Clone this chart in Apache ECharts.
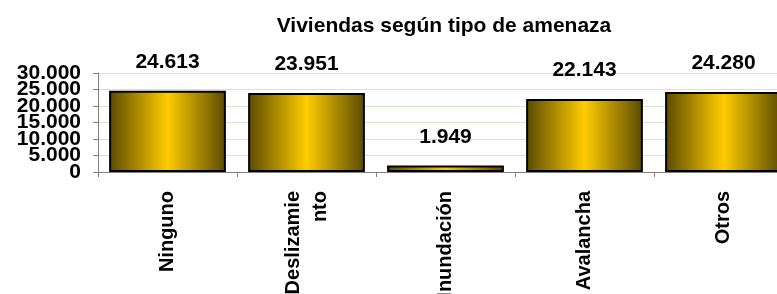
<!DOCTYPE html>
<html>
<head>
<meta charset="utf-8">
<script src="https://cdn.jsdelivr.net/npm/echarts@6/dist/echarts.min.js"></script>
<style>
html,body{margin:0;padding:0;background:#fff;}
#c{width:777px;height:294px;}
</style>
</head>
<body>
<div id="c"></div>
<script>
var titleText = 'Viviendas según tipo de amenaza';
var categories = ['Ninguno', 'Deslizamie\nnto', 'Inundación', 'Avalancha', 'Otros'];
var values = [24613, 23951, 1949, 22143, 24280];
var yMin = 0, yMax = 30000, yStep = 5000;

function fmt(v){
  var s = String(Math.round(v));
  return s.replace(/\B(?=(\d{3})+(?!\d))/g, '.');
}

var font = 'Liberation Sans, Arial, sans-serif';
var labelStyle = {fontFamily:font, fontWeight:'bold', fontSize:21, color:'#000', margin:17, showMinLabel:true, showMaxLabel:true};
var chart = echarts.init(document.getElementById('c'), null, {renderer:'canvas'});
chart.setOption({
  animation:false,
  backgroundColor:'#ffffff',
  title:{
    text:titleText, left:439, top:11, textAlign:'center',
    textStyle:{fontFamily:font, fontWeight:'bold', fontSize:21, color:'#000'}
  },
  grid:{left:98, top:73, width:695, height:99, containLabel:false, outerBoundsMode:'none'},
  xAxis:{
    type:'category', data:categories,
    axisLine:{show:true, lineStyle:{color:'#808080', width:1}},
    axisTick:{show:true, length:5, lineStyle:{color:'#808080'}},
    axisLabel:{rotate:90, margin:19, fontFamily:font, fontWeight:'bold', fontSize:20, color:'#000', lineHeight:27, interval:0}
  },
  yAxis:[{
    type:'value', position:'left', min:yMin, max:yMax, interval:yStep*2,
    axisLine:{show:true, lineStyle:{color:'#808080', width:1}},
    axisTick:{show:false},
    splitLine:{show:false},
    axisLabel:Object.assign({}, labelStyle, {formatter:function(v){return fmt(v);}})
  },{
    type:'value', position:'left', offset:0, min:yMin, max:yMax, interval:yStep,
    axisLine:{show:false},
    axisTick:{show:true, length:5, lineStyle:{color:'#808080'}},
    splitLine:{show:true, lineStyle:{color:'#cfe8c8', width:1}},
    axisLabel:Object.assign({}, labelStyle, {formatter:function(v){return (v % (yStep*2) === 0) ? '' : fmt(v);}})
  }],
  series:[{
    type:'bar', data:values, barCategoryGap:'16%', yAxisIndex:0,
    itemStyle:{
      borderColor:'#000', borderWidth:2,
      color:new echarts.graphic.LinearGradient(0,0,1,0,[
        {offset:0,color:'#5a4a00'},
        {offset:0.5,color:'#ffcc00'},
        {offset:1,color:'#5a4a00'}
      ])
    },
    label:{show:true, position:'top', distance:18, fontFamily:font, fontWeight:'bold', fontSize:21, color:'#000', formatter:function(p){return fmt(p.value);}}
  }]
});
</script>
</body>
</html>
